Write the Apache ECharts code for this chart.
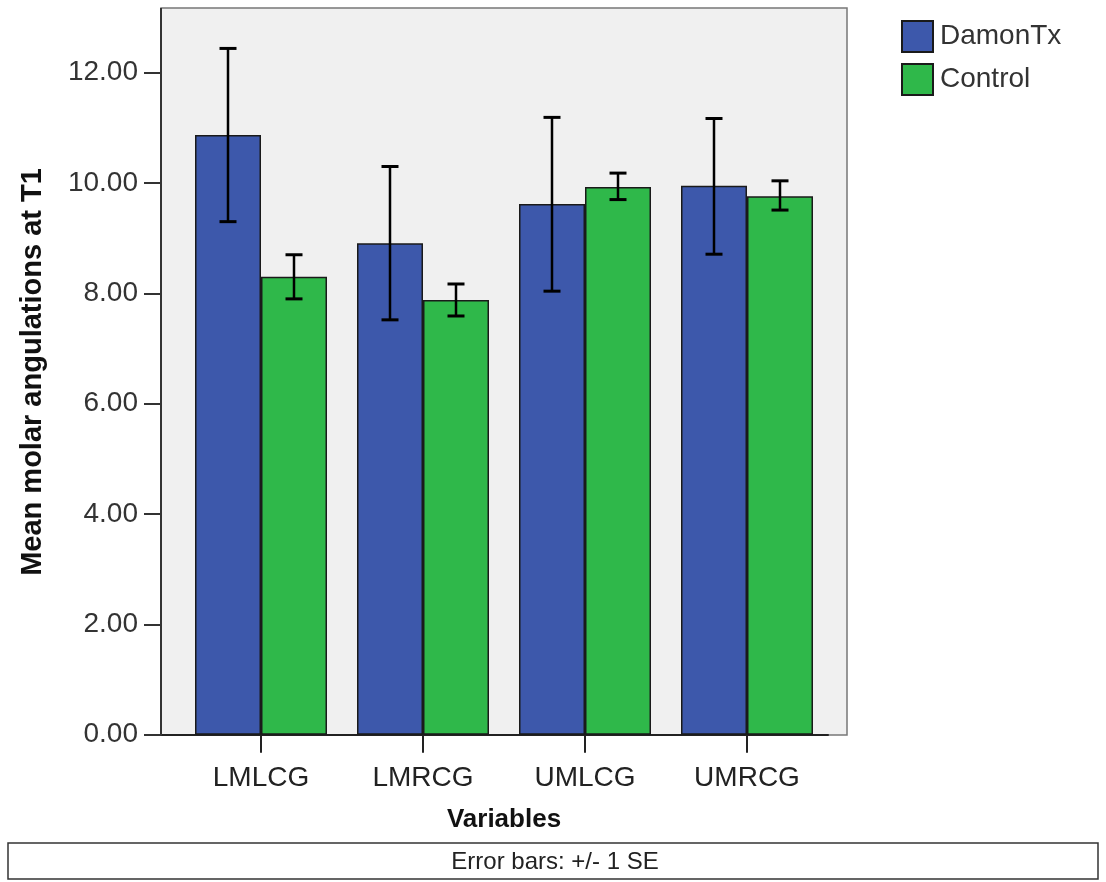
<!DOCTYPE html>
<html>
<head>
<meta charset="utf-8">
<script src="https://cdn.jsdelivr.net/npm/echarts@6/dist/echarts.min.js"></script>
<style>
	html, body {margin: 0; padding: 0; background: #fff;}
	#chart {width: 1106px; height: 882px;}
</style>
</head>
<body>
<div id="chart"></div>
<script>
// 数据
var categories = ['LMLCG', 'LMRCG', 'UMLCG', 'UMRCG'];
var yTicks = [0, 2, 4, 6, 8, 10, 12];

var damonMean = [10.87, 8.91, 9.62, 9.95];
var damonLow = [9.30, 7.52, 8.04, 8.71];
var damonHigh = [12.44, 10.30, 11.19, 11.17];

var controlMean = [8.30, 7.88, 9.93, 9.76];
var controlLow = [7.90, 7.59, 9.70, 9.51];
var controlHigh = [8.70, 8.17, 10.18, 10.04];

var FONT = '"Liberation Sans", Arial, sans-serif';
var BAR_W = 66;

/**
 * 误差线 (custom)
 */
function errorSeries(name, lows, highs, shift) {
	var data = [];
	for (var i = 0; i < categories.length; i++) {
		data.push([i, lows[i], highs[i]]);
	}
	return {
		type: 'custom',
		name: name,
		data: data,
		z: 10,
		encode: {x: 0, y: [1, 2]},
		renderItem: function (params, api) {
			var x = api.coord([api.value(0), 0])[0] + shift;
			var top = api.coord([api.value(0), api.value(2)])[1];
			var bot = api.coord([api.value(0), api.value(1)])[1];
			var half = 8.5;
			var st = {stroke: '#000', lineWidth: 2.5};
			return {
				type: 'group',
				children: [
					{type: 'line', shape: {x1: x, y1: top, x2: x, y2: bot}, style: st},
					{type: 'line', shape: {x1: x - half, y1: top, x2: x + half, y2: top}, style: {stroke: '#000', lineWidth: 3}},
					{type: 'line', shape: {x1: x - half, y1: bot, x2: x + half, y2: bot}, style: {stroke: '#000', lineWidth: 3}}
				]
			};
		}
	};
}

var chart = echarts.init(document.getElementById('chart'));
var option = {
	animation: false,
	backgroundColor: '#fff',
	textStyle: {fontFamily: FONT},
	grid: {left: 180, right: 278, top: 72.7, bottom: 147.3},
	legend: {
		data: ['DamonTx', 'Control'],
		orient: 'vertical',
		left: 896,
		top: 15,
		itemWidth: 31,
		itemHeight: 31,
		itemGap: 10,
		icon: 'rect',
		textStyle: {fontSize: 28, color: '#333', fontFamily: FONT, padding: [0, 0, 0, 2]}
	},
	graphic: [
		{// 绘图区背景
			type: 'rect', z: -1, silent: true,
			shape: {x: 161, y: 8, width: 686, height: 727},
			style: {fill: '#f0f0f0', stroke: '#777', lineWidth: 1.5}
		},
		{
			type: 'line', z: -1, silent: true,
			shape: {x1: 161, y1: 8, x2: 161, y2: 735},
			style: {stroke: '#333', lineWidth: 2}
		},
		{
			type: 'line', silent: true,
			shape: {x1: 155, y1: 735, x2: 181, y2: 735},
			style: {stroke: '#222', lineWidth: 2}
		},
		{// y轴标题
			type: 'text', silent: true,
			x: 33, y: 372, rotation: Math.PI / 2,
			style: {text: 'Mean molar angulations at T1', font: 'bold 29px ' + FONT, fill: '#111', textAlign: 'center', textVerticalAlign: 'middle'}
		},
		{// 脚注框
			type: 'rect', silent: true,
			shape: {x: 8, y: 843, width: 1090, height: 36},
			style: {fill: '#fff', stroke: '#333', lineWidth: 1.5}
		},
		{
			type: 'text', silent: true,
			x: 555, y: 862,
			style: {text: 'Error bars: +/- 1 SE', font: '24px ' + FONT, fill: '#222', textAlign: 'center', textVerticalAlign: 'middle'}
		}
	],
	xAxis: {
		type: 'category',
		data: categories,
		name: 'Variables',
		nameLocation: 'middle',
		nameGap: 72,
		nameTextStyle: {fontSize: 26, fontWeight: 'bold', color: '#111', fontFamily: FONT},
		axisLine: {show: true, lineStyle: {color: '#222', width: 2}},
		axisTick: {show: true, alignWithLabel: true, length: 18, lineStyle: {color: '#222', width: 2}},
		axisLabel: {fontSize: 28, color: '#222', margin: 30, fontFamily: FONT}
	},
	yAxis: {
		type: 'value',
		min: 0,
		max: 12,
		interval: 2,
		offset: 19,
		axisLine: {show: true, lineStyle: {color: '#333', width: 2}},
		axisTick: {show: true, length: 17, lineStyle: {color: '#333', width: 2}},
		axisLabel: {fontSize: 28, color: '#333', margin: 23, fontFamily: FONT,
			formatter: function (v) { return v.toFixed(2); }},
		splitLine: {show: false}
	},
	series: [
		{
			name: 'DamonTx',
			type: 'bar',
			barWidth: BAR_W,
			barGap: '0%',
			data: damonMean,
			itemStyle: {color: '#3d58ab', borderColor: '#1a1a1a', borderWidth: 1.5}
		},
		{
			name: 'Control',
			type: 'bar',
			barWidth: BAR_W,
			barGap: '0%',
			data: controlMean,
			itemStyle: {color: '#2fb84a', borderColor: '#1a1a1a', borderWidth: 1.5}
		},
		errorSeries('DamonTx SE', damonLow, damonHigh, -BAR_W / 2),
		errorSeries('Control SE', controlLow, controlHigh, BAR_W / 2)
	]
};
chart.setOption(option);
</script>
</body>
</html>
